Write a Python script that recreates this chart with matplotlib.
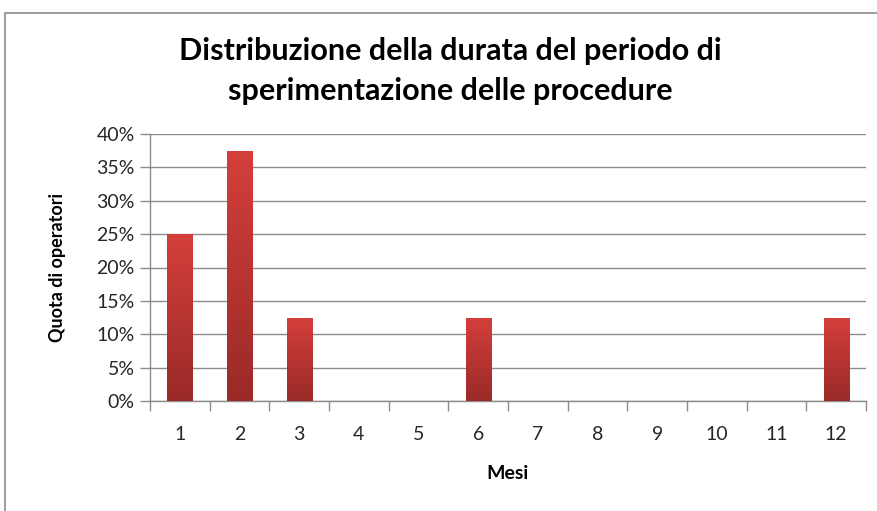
import matplotlib
matplotlib.use("Agg")
import matplotlib.pyplot as plt
import numpy as np
from matplotlib.colors import LinearSegmentedColormap
from matplotlib.patches import Rectangle

# Dati
mesi = ["1", "2", "3", "4", "5", "6", "7", "8", "9", "10", "11", "12"]
quota = [0.25, 0.375, 0.125, 0.0, 0.0, 0.125, 0.0, 0.0, 0.0, 0.0, 0.0, 0.125]
yticks = [0.0, 0.05, 0.10, 0.15, 0.20, 0.25, 0.30, 0.35, 0.40]

plt.rcParams['font.family'] = ['Lato', 'DejaVu Sans']

fig = plt.figure(figsize=(8.78, 5.11), dpi=100)
ax = fig.add_axes([150 / 878, 1 - 401 / 511, 716 / 878, 267 / 511])

# cornice del grafico
fig.patches.append(Rectangle((5 / 878, -0.2), 1.2, 1.2 - 13 / 511,
                             transform=fig.transFigure, fill=False,
                             edgecolor="#8c8c8c", linewidth=1.2))

x = np.arange(len(mesi))
cmap = LinearSegmentedColormap.from_list("rosso", ["#9a2a28", "#d43f3b"])
grad = np.linspace(0, 1, 256).reshape(-1, 1)

bars = ax.bar(x, quota, width=0.42, color="none", zorder=3)
for b in bars:
    h = b.get_height()
    if h <= 0:
        continue
    x0 = b.get_x()
    im = ax.imshow(grad, cmap=cmap, origin="lower", aspect="auto",
                   extent=[x0, x0 + b.get_width(), 0, h], zorder=3)
    im.set_clip_path(b)

ax.set_xlim(-0.5, len(mesi) - 0.5)
ax.set_ylim(0, 0.40)
ax.set_yticks(yticks)
ax.set_yticklabels([f"{int(round(v * 100))}%" for v in yticks], fontsize=14,
                   color="#262626")
ax.set_xticks(x)
ax.set_xticklabels(mesi, fontsize=14, color="#262626")
ax.set_xticks(np.arange(-0.5, len(mesi)), minor=True)
ax.tick_params(axis="x", which="major", length=0, pad=18)
ax.tick_params(axis="x", which="minor", length=7, color="#8c8c8c", width=1)
ax.tick_params(axis="y", length=7, color="#8c8c8c", width=1, pad=4)

ax.grid(axis="y", color="#8c8c8c", linewidth=1)
ax.set_axisbelow(True)
for s in ["top", "right"]:
    ax.spines[s].set_visible(False)
for s in ["left", "bottom"]:
    ax.spines[s].set_color("#8c8c8c")
    ax.spines[s].set_linewidth(1)

ax.set_xlabel("Mesi", fontsize=14, fontweight="bold", labelpad=16)
ax.set_ylabel("Quota di operatori", fontsize=13, fontweight="bold", labelpad=22)

fig.text(450 / 878, 1 - 71 / 511,
         "Distribuzione della durata del periodo di\nsperimentazione delle procedure",
         ha="center", va="center", fontsize=22, fontweight="bold",
         linespacing=1.55)

fig.savefig("out.png", dpi=100)
